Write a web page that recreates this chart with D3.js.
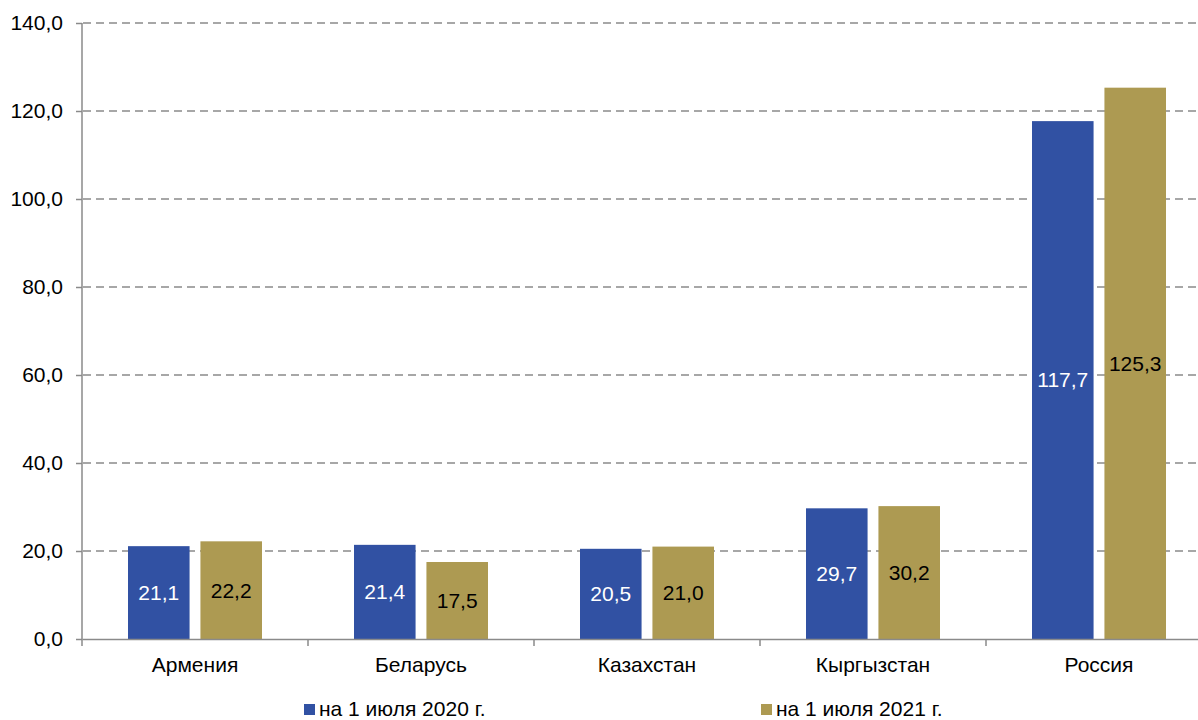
<!DOCTYPE html>
<html>
<head>
<meta charset="utf-8">
<script src="https://cdn.jsdelivr.net/npm/d3@7"></script>
<style>
  body { margin: 0; background: #fff; }
  svg { display: block; font-family: "Liberation Sans", Arial, sans-serif; }
</style>
</head>
<body>
<div id="chart"></div>
<script>
var countries = ["Армения", "Беларусь", "Казахстан", "Кыргызстан", "Россия"];
var seriesNames = ["на 1 июля 2020 г.", "на 1 июля 2021 г."];
var values2020 = [21.1, 21.4, 20.5, 29.7, 117.7];
var values2021 = [22.2, 17.5, 21.0, 30.2, 125.3];
var yTicks = [0, 20, 40, 60, 80, 100, 120, 140];

var width = 1198;
var height = 720;
var colors = ["#3151a3", "#ad9a52"];
var labelColors = ["#ffffff", "#000000"];
var fontSize = "21px";

var data = countries.map(function(c, i) {
    return { country: c, vals: [values2020[i], values2021[i]] };
});

var svg = d3.select("#chart")
            .append("svg")
            .attr("width", width)
            .attr("height", height);

// the plot runs past the right edge of the picture, like the original
var x0 = d3.scaleBand()
           .domain(countries)
           .range([82, 1212]);
var x1 = d3.scaleBand()
           .domain([0, 1])
           .range([46, 180])
           .paddingInner(0.15);
var y = d3.scaleLinear()
          .domain([0, 140])
          .range([639, 23]);

// dashed grid
svg.append("g")
   .selectAll("line")
   .data(yTicks.filter(function(d) { return d > 0; }))
   .enter()
   .append("line")
   .attr("x1", 83)
   .attr("x2", width)
   .attr("y1", function(d) { return y(d); })
   .attr("y2", function(d) { return y(d); })
   .attr("stroke", "#8a8a8a")
   .attr("stroke-width", 1.5)
   .attr("stroke-dasharray", "8,5");

// bars
var groups = svg.append("g")
                .selectAll("g")
                .data(data)
                .enter()
                .append("g")
                .attr("transform", function(d) { return "translate(" + x0(d.country) + ",0)"; });

groups.selectAll("rect")
      .data(function(d) { return d.vals; })
      .enter()
      .append("rect")
      .attr("x", function(d, i) { return x1(i); })
      .attr("width", x1.bandwidth())
      .attr("y", function(d) { return y(d); })
      .attr("height", function(d) { return y(0) - y(d); })
      .attr("fill", function(d, i) { return colors[i]; });

groups.selectAll("text")
      .data(function(d) { return d.vals; })
      .enter()
      .append("text")
      .attr("x", function(d, i) { return x1(i) + x1.bandwidth() / 2; })
      .attr("y", function(d) { return (y(d) + y(0)) / 2; })
      .attr("dy", "0.35em")
      .attr("text-anchor", "middle")
      .attr("font-size", fontSize)
      .attr("fill", function(d, i) { return labelColors[i]; })
      .text(function(d) { return d.toFixed(1).replace(".", ","); });

// y axis
var yAxis = d3.axisLeft(y)
              .tickValues(yTicks)
              .tickSize(6)
              .tickPadding(13)
              .tickFormat(function(d) { return d.toFixed(1).replace(".", ","); });
var yg = svg.append("g")
            .attr("transform", "translate(82,0)")
            .call(yAxis);
yg.select(".domain").attr("stroke", "#8a8a8a").attr("stroke-width", 1.5)
  .attr("d", "M0," + y(140) + "V" + (y(0) + 7));
yg.selectAll(".tick line").attr("stroke", "#8a8a8a").attr("stroke-width", 1.5);
yg.selectAll(".tick text").attr("font-size", fontSize).attr("fill", "#000")
  .attr("font-family", "Liberation Sans, Arial, sans-serif");

// x axis
var xAxis = d3.axisBottom(x0).tickSize(0).tickPadding(18);
var xg = svg.append("g")
            .attr("transform", "translate(0," + y(0) + ")")
            .call(xAxis);
xg.select(".domain").attr("stroke", "#8a8a8a").attr("stroke-width", 1.5);
xg.selectAll(".tick text").attr("font-size", fontSize).attr("fill", "#000")
  .attr("font-family", "Liberation Sans, Arial, sans-serif");
xg.selectAll(".sep")
  .data(countries.slice(1))
  .enter()
  .append("line")
  .attr("class", "sep")
  .attr("x1", function(d) { return x0(d); })
  .attr("x2", function(d) { return x0(d); })
  .attr("y1", 0)
  .attr("y2", 7)
  .attr("stroke", "#8a8a8a")
  .attr("stroke-width", 1.5);

// legend
var legendX = [304, 761];
var legend = svg.append("g")
                .selectAll("g")
                .data(seriesNames)
                .enter()
                .append("g")
                .attr("transform", function(d, i) { return "translate(" + legendX[i] + ",704)"; });
legend.append("rect")
      .attr("width", 11)
      .attr("height", 11)
      .attr("fill", function(d, i) { return colors[i]; });
legend.append("text")
      .attr("x", 15)
      .attr("y", 12)
      .attr("font-size", fontSize)
      .attr("fill", "#000")
      .text(function(d) { return d; });
</script>
</body>
</html>
